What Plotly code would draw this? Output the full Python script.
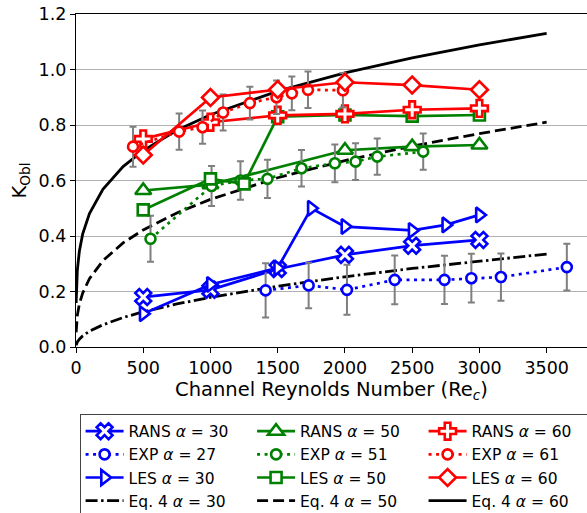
import plotly.graph_objects as go

# ---- Data -------------------------------------------------------------
# alpha = 30 (blue)
rans30_re = [500, 1000, 1500, 2000, 2500, 3000]
rans30_k = [0.180, 0.206, 0.281, 0.332, 0.365, 0.386]
les30_re = [500, 1000, 1500, 1750, 2000, 2500, 2750, 3000]
les30_k = [0.120, 0.225, 0.285, 0.500, 0.434, 0.420, 0.440, 0.476]
exp27_re = [1410, 1730, 2015, 2370, 2740, 2940, 3160, 3650]
exp27_k = [0.204, 0.222, 0.206, 0.242, 0.242, 0.248, 0.252, 0.288]
exp27_err = [0.098, 0.082, 0.090, 0.088, 0.087, 0.088, 0.085, 0.084]

# alpha = 50 (green)
rans50_re = [500, 1000, 2000, 2500, 3000]
rans50_k = [0.564, 0.585, 0.709, 0.722, 0.728]
les50_re = [500, 1000, 1250, 1500, 2000, 2500, 3000]
les50_k = [0.494, 0.606, 0.588, 0.830, 0.836, 0.832, 0.836]
exp51_re = [554, 1008, 1223, 1424, 1677, 1925, 2079, 2240, 2582]
exp51_k = [0.390, 0.580, 0.600, 0.606, 0.644, 0.662, 0.668, 0.686, 0.704]
exp51_err = [0.083, 0.072, 0.069, 0.069, 0.066, 0.068, 0.066, 0.065, 0.065]

# alpha = 60 (red)
rans60_re = [500, 1000, 1500, 2000, 2500, 3000]
rans60_k = [0.750, 0.810, 0.835, 0.840, 0.855, 0.860]
les60_re = [500, 1000, 1500, 2000, 2500, 3000]
les60_k = [0.692, 0.899, 0.928, 0.954, 0.944, 0.927]
exp61_re = [424, 767, 941, 1094, 1293, 1491, 1605, 1725, 1985]
exp61_k = [0.722, 0.776, 0.792, 0.845, 0.879, 0.900, 0.914, 0.927, 0.925]
exp61_err = [0.072, 0.065, 0.060, 0.065, 0.059, 0.060, 0.061, 0.066, 0.062]

# Eq. 4 curves, tabulated
eq_re = [1, 3, 10, 25, 50, 100, 200, 350, 500, 750, 1000, 1500, 2000, 2500, 3000, 3500]
eq30_k = [0.006, 0.010, 0.018, 0.028, 0.040, 0.057, 0.080, 0.106, 0.127, 0.155,
          0.179, 0.219, 0.253, 0.283, 0.310, 0.335]
eq50_k = [0.053, 0.076, 0.114, 0.155, 0.195, 0.246, 0.311, 0.375, 0.422, 0.483,
          0.532, 0.610, 0.672, 0.724, 0.769, 0.810]
eq60_k = [0.159, 0.207, 0.277, 0.345, 0.408, 0.481, 0.568, 0.650, 0.708, 0.781,
          0.837, 0.922, 0.988, 1.042, 1.089, 1.130]

x_ticks = [0, 500, 1000, 1500, 2000, 2500, 3000, 3500]
y_ticks = [0.0, 0.2, 0.4, 0.6, 0.8, 1.0, 1.2]

BLUE, GREEN, RED = "#0000ff", "#008000", "#ff0000"
LW = 2.7
ERR = dict(type="data", visible=True, color="#7f7f7f", thickness=2, width=3.5)

fig = go.Figure()


def eq_line(k, dash, name, rank):
    fig.add_trace(go.Scatter(
        x=eq_re, y=k, mode="lines", name=name, legendrank=rank,
        line=dict(color="black", width=2.8, dash=dash)))


def model(re, k, color, symbol, size, name, rank):
    fig.add_trace(go.Scatter(
        x=re, y=k, mode="lines+markers", name=name, legendrank=rank,
        line=dict(color=color, width=LW),
        marker=dict(symbol=symbol, size=size, color="white",
                    line=dict(color=color, width=2.6))))


def experiment(re, k, err, color, name, rank):
    fig.add_trace(go.Scatter(
        x=re, y=k, mode="lines+markers", name=name, legendrank=rank,
        error_y=dict(array=err, **ERR),
        line=dict(color=color, width=LW, dash="3px,4.5px"),
        marker=dict(symbol="circle", size=10, color="white",
                    line=dict(color=color, width=2.6))))


a = "<i>α</i>"
eq_line(eq30_k, "12px,3.5px,2.5px,3.5px", f"Eq. 4 {a} = 30", 10)
eq_line(eq50_k, "11px,5px", f"Eq. 4 {a} = 50", 11)
eq_line(eq60_k, "solid", f"Eq. 4 {a} = 60", 12)

model(rans30_re, rans30_k, BLUE, "x", 14, f"RANS {a} = 30", 1)
experiment(exp27_re, exp27_k, exp27_err, BLUE, f"EXP {a} = 27", 4)
model(les30_re, les30_k, BLUE, "triangle-right", 13, f"LES {a} = 30", 7)

model(rans50_re, rans50_k, GREEN, "triangle-up", 14, f"RANS {a} = 50", 2)
experiment(exp51_re, exp51_k, exp51_err, GREEN, f"EXP {a} = 51", 5)
model(les50_re, les50_k, GREEN, "square", 11, f"LES {a} = 50", 8)

model(rans60_re, rans60_k, RED, "cross", 14, f"RANS {a} = 60", 3)
experiment(exp61_re, exp61_k, exp61_err, RED, f"EXP {a} = 61", 6)
model(les60_re, les60_k, RED, "diamond", 13, f"LES {a} = 60", 9)

FONT = "DejaVu Sans"
fig.update_layout(
    width=587, height=513,
    margin=dict(l=76, r=0, t=14, b=166, autoexpand=False),
    paper_bgcolor="white", plot_bgcolor="white",
    font=dict(family=FONT, size=15, color="black"),
    showlegend=True,
    legend=dict(
        orientation="h", x=0.007, xanchor="left", y=-0.2, yanchor="top",
        entrywidth=118.5, itemwidth=38, traceorder="normal",
        bordercolor="#444", borderwidth=1, bgcolor="white",
        font=dict(family=FONT, size=15.5), tracegroupgap=0,
    ),
    xaxis=dict(
        range=[0, 3800], tickvals=x_ticks, showgrid=False, zeroline=False,
        showline=True, linecolor="black", linewidth=1.2, mirror=True,
        ticks="outside", ticklen=5, tickwidth=1.2, tickcolor="black",
        tickfont=dict(size=17.5),
        title=dict(text="Channel Reynolds Number (Re<sub><i>c</i></sub>)",
                   font=dict(size=19.5), standoff=5),
    ),
    yaxis=dict(
        range=[0, 1.2], tickvals=y_ticks, tickformat=".1f",
        showgrid=True, gridcolor="#b0b0b0", gridwidth=1.4, zeroline=False,
        showline=True, linecolor="black", linewidth=1.2,
        ticks="outside", ticklen=5, tickwidth=1.2, tickcolor="black",
        tickfont=dict(size=17.5),
        title=dict(text="K<sub>Obl</sub>", font=dict(size=19.5), standoff=6),
    ),
)

fig.write_html("out.html")
